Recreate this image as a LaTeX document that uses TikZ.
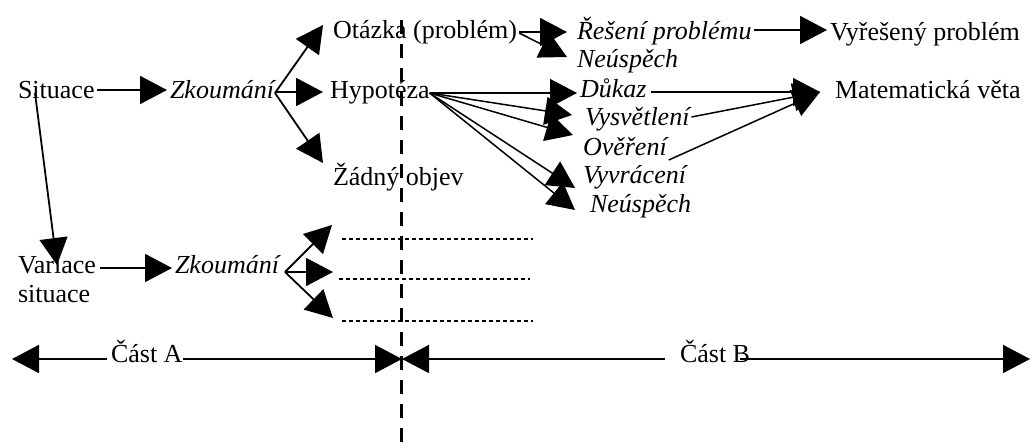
\documentclass[tikz,border=0pt]{standalone}
\usepackage{fontspec}
\setmainfont{Liberation Serif}
\usetikzlibrary{arrows.meta,calc}
\begin{document}
\begin{tikzpicture}[x=1pt,y=-1pt,
  lbl/.style={inner sep=0pt,outer sep=0pt,anchor=base west,font=\fontsize{26}{29}\selectfont},
  ilbl/.style={lbl,font=\fontsize{26}{29}\selectfont\itshape},
  conn/.style={line width=1.8pt,-{Triangle[length=27pt,width=28pt]}},
  thin conn/.style={line width=1.5pt,-{Triangle[length=27pt,width=28pt]}},
  dotline/.style={line width=2pt,dash pattern=on 4pt off 3pt},
  divider/.style={line width=3pt,dash pattern=on 14pt off 10pt}]
\useasboundingbox (0,0) rectangle (1033,447);
\fill[white] (0,0) rectangle (1033,447);

% nodes
\node[lbl]  (sit)  at (18,98)  {Situace};
\node[ilbl] (zk1)  at (170,98) {Zkoumání};
\node[lbl]  (ot)   at (333,38) {Otázka (problém)};
\node[lbl]  (hyp)  at (330,98) {Hypotéza};
\node[lbl]  (zad)  at (333,185) {Žádný objev};
\node[ilbl] (res)  at (577,39) {Řešení problému};
\node[ilbl] (neu1) at (577,67) {Neúspěch};
\node[lbl]  (vyr)  at (830,40) {Vyřešený problém};
\node[ilbl] (dk)   at (580,97) {Důkaz};
\node[ilbl] (vys)  at (585,125) {Vysvětlení};
\node[ilbl] (ov)   at (583,155) {Ověření};
\node[ilbl] (vyv)  at (583,183) {Vyvrácení};
\node[ilbl] (neu2) at (590,212) {Neúspěch};
\node[lbl]  (mv)   at (835,98) {Matematická věta};
\node[lbl,align=left] (var) at (18,302) {Variace\\situace};
\node[ilbl] (zk2)  at (175,273) {Zkoumání};
\node[lbl]  (castA) at (111,362) {Část A};
\node[lbl]  (castB) at (680,362) {Část B};

% free-end coordinates
\coordinate (f1) at (332,225);
\coordinate (f2) at (333,272);
\coordinate (f3) at (333,318);
\coordinate (d1a) at (342,239); \coordinate (d1b) at (533,239);
\coordinate (d2a) at (339,279); \coordinate (d2b) at (530,279);
\coordinate (d3a) at (342,321); \coordinate (d3b) at (533,321);
\coordinate (aend) at (12,359);
\coordinate (mid) at (402,359);
\coordinate (bend) at (1030,359);
\coordinate (vtop) at (401,20);
\coordinate (vbot) at (401,447);

% top row connectors
\draw[conn] ($(sit.base east)+(2,-8)$) -- ($(zk1.base west)+(-3,-8)$);
\draw[conn] ($(zk1.base east)+(1,-5)$) -- ($(ot.base west)+(-10,-13)$);
\draw[conn] ($(zk1.base east)+(1,-6)$) -- ($(hyp.base west)+(-7,-6)$);
\draw[conn] ($(zk1.base east)+(1,-5)$) -- ($(zad.base west)+(-10,-22)$);
\draw[conn] ($(ot.base east)+(2,-6)$) -- ($(res.base west)+(-10,-7)$);
\draw[thin conn] ($(ot.base east)+(2,-5)$) -- ($(neu1.base west)+(-10,-10)$);
\draw[conn] ($(res.base east)+(2,-9)$) -- ($(vyr.base west)+(-3,-10)$);

% hypothesis fan
\draw[thin conn] ($(hyp.base east)+(0,-5)$) -- ($(dk.base west)+(-3,-4)$);
\draw[thin conn] ($(hyp.base east)+(0,-5)$) -- ($(vys.base west)+(-13,-10)$);
\draw[thin conn] ($(hyp.base east)+(0,-5)$) -- ($(ov.base west)+(-10,-20)$);
\draw[thin conn] ($(hyp.base east)+(0,-5)$) -- ($(vyv.base west)+(-8,5)$);
\draw[thin conn] ($(hyp.base east)+(0,-5)$) -- ($(neu2.base west)+(-15,-2)$);

% to theorem
\draw[thin conn] ($(dk.base east)+(5,-5)$) -- ($(mv.base west)+(-15,-6)$);
\draw[thin conn] ($(vys.base east)+(2,-8)$) -- ($(mv.base west)+(-15,-6)$);
\draw[thin conn] ($(ov.base east)+(2,5)$) -- ($(mv.base west)+(-15,-6)$);

% variation branch
\draw[conn] ($(sit.base west)+(17,-5)$) -- ($(var.base west)+(39,-37)$);
\draw[conn] ($(var.east |- zk2.base)+(4,-5)$) -- ($(zk2.base west)+(-3,-5)$);
\draw[conn] ($(zk2.base east)+(6,-1)$) -- (f1);
\draw[conn] ($(zk2.base east)+(6,-1)$) -- (f2);
\draw[conn] ($(zk2.base east)+(6,-1)$) -- (f3);
\draw[dotline] (d1a) -- (d1b);
\draw[dotline] (d2a) -- (d2b);
\draw[dotline] (d3a) -- (d3b);

% bottom parts
\draw[conn] ($(castA.base west)+(-4,-3)$) -- (aend);
\draw[conn] ($(castA.base east)+(0,-3)$) -- (mid);
\draw[conn] ($(castB.base west)+(-15,-3)$) -- (mid);
\draw[conn] ($(castB.base east)+(-10,-3)$) -- (bend);

% divider
\draw[divider] (vtop) -- (vbot);
\end{tikzpicture}
\end{document}
